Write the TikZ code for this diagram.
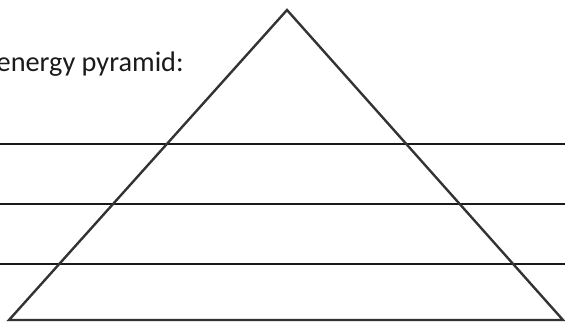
\documentclass[tikz,border=0pt]{standalone}
\usepackage{fontspec}
\setmainfont{Carlito}
\usepackage{tikz}
\usetikzlibrary{positioning,calc}
\definecolor{ink}{HTML}{1A1A1A}
\definecolor{edge}{HTML}{333333}
\tikzset{rule/.style={line width=1.3pt,draw=ink},
  pyr/.style={line width=1.2pt,draw=edge,line join=miter},
  lbl/.style={font=\fontsize{14.2}{17}\selectfont,text=ink,inner sep=0pt}}
\begin{document}
\begin{tikzpicture}[x=0.5bp,y=0.5bp]
\useasboundingbox (0,0) rectangle (565,323);
\coordinate (apex) at (287,313);
\coordinate (baseL) at (9,3);
\coordinate (baseR) at (563,3);
\node[lbl,anchor=base east] (title) at (184,252) {energy pyramid:};
\foreach \y in {179,119,59}{
\draw[rule] (0,\y) -- (565,\y);
}
\draw[pyr] (apex) -- (baseL) -- (baseR) -- cycle;
\end{tikzpicture}
\end{document}
